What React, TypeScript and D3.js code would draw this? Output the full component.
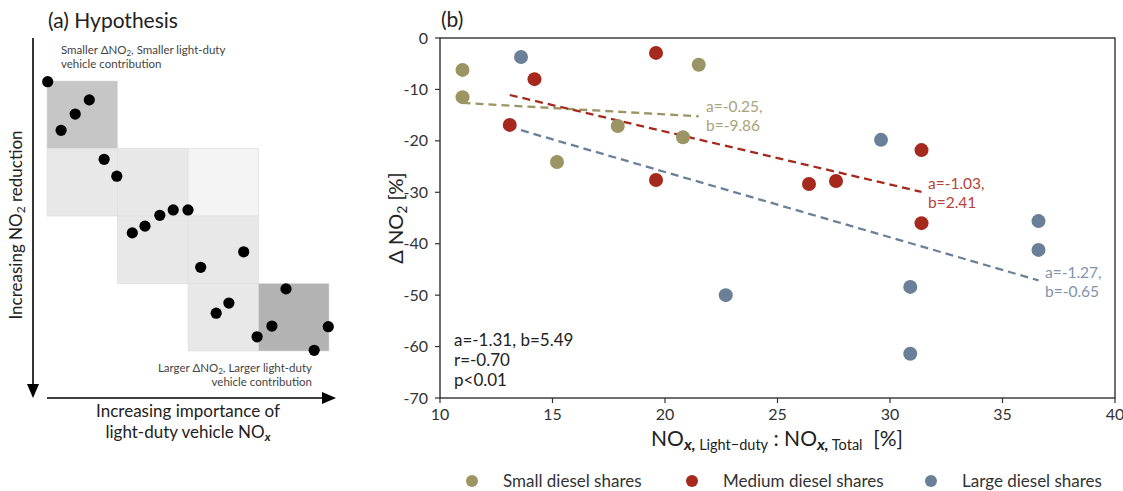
import React from "react";
import * as d3 from "d3";

const FONT = "Lato, 'Open Sans', sans-serif";

// Panel (b) data
const smallX = [11.0, 11.0, 15.2, 17.9, 20.8, 21.5];
const smallY = [-6.2, -11.5, -24.1, -17.1, -19.3, -5.2];
const mediumX = [19.6, 14.2, 13.1, 19.6, 26.4, 27.6, 31.4, 31.4];
const mediumY = [-2.9, -8.0, -16.9, -27.6, -28.4, -27.8, -21.8, -36.0];
const largeX = [13.6, 22.7, 29.6, 30.9, 30.9, 36.6, 36.6];
const largeY = [-3.7, -50.0, -19.8, -48.4, -61.4, -35.6, -41.2];

const seriesNames = ["Small diesel shares", "Medium diesel shares", "Large diesel shares"];
const seriesColors = ["#9b9563", "#a5291d", "#6a8099"];
const labelColors = ["#a8a47a", "#b4443a", "#8094ab"];
const fitA = [-0.25, -1.03, -1.27];
const fitB = [-9.86, 2.41, -0.65];
const fitLabels = [["a=-0.25,", "b=-9.86"], ["a=-1.03,", "b=2.41"], ["a=-1.27,", "b=-0.65"]];
const statsLines = ["a=-1.31, b=5.49", "r=-0.70", "p<0.01"];
const xTicks = [10, 15, 20, 25, 30, 35, 40];
const yTicks = [0, -10, -20, -30, -40, -50, -60, -70];

// Panel (a) data (abstract units: 4x4 grid)
const hypX = [0.01, 0.6, 0.4, 0.2, 0.81, 0.99, 1.21, 1.39, 1.6, 1.79, 2.0, 2.18, 2.79, 2.4, 2.58, 2.98, 3.19, 3.39, 3.99, 3.79];
const hypY = [0.01, 0.28, 0.49, 0.73, 1.16, 1.41, 2.25, 2.15, 1.99, 1.91, 1.91, 2.76, 2.53, 3.44, 3.29, 3.79, 3.63, 3.08, 3.64, 3.99];
const cellCol = [0, 0, 1, 2, 1, 2, 2, 3];
const cellRow = [0, 1, 1, 1, 2, 2, 3, 3];
const cellFill = ["#c6c6c6", "#e8e8e8", "#e8e8e8", "#f4f4f4", "#e8e8e8", "#e8e8e8", "#e8e8e8", "#b3b3b3"];

export default function App() {
  const x = d3.scaleLinear().domain([10, 40]).range([440, 1115]);
  const y = d3.scaleLinear().domain([0, -70]).range([38, 398]);
  const hx = d3.scaleLinear().domain([0, 4]).range([47, 329]);
  const hy = d3.scaleLinear().domain([0, 4]).range([81, 351]);

  const xs = [smallX, mediumX, largeX];
  const ys = [smallY, mediumY, largeY];
  const line = d3.line<[number, number]>().x((d) => x(d[0])).y((d) => y(d[1]));
  const labelPos = [[706, 112], [928, 189], [1045, 278]];
  const legendX = [472, 692, 931];

  return (
    <svg width={1123} height={491} style={{ position: "absolute", left: 0, top: 0, background: "#fff" }} fontFamily={FONT}>
      {/* Panel (a) */}
      <text x={48} y={28} fontSize={21} fill="#222">(a) Hypothesis</text>
      {cellCol.map((c, i) => (
        <rect key={"c" + i} x={hx(c)} y={hy(cellRow[i])} width={hx(1) - hx(0)} height={hy(1) - hy(0)} fill={cellFill[i]} stroke="#dcdcdc" strokeWidth={0.6} />
      ))}
      {hypX.map((v, i) => (
        <circle key={"h" + i} cx={hx(v)} cy={hy(hypY[i])} r={5.6} fill="#000" />
      ))}
      <line x1={33} y1={38} x2={33} y2={386} stroke="#000" strokeWidth={1.6} />
      <path d="M27,384 L39,384 L33,398 Z" fill="#000" />
      <line x1={47} y1={398} x2={324} y2={398} stroke="#000" strokeWidth={1.6} />
      <path d="M322,392 L322,404 L336,398 Z" fill="#000" />
      <text x={61} y={54} fontSize={11.5} fill="#444">Smaller ΔNO<tspan fontSize={8} dy={1.5}>2</tspan><tspan dy={-1.5}>, Smaller light-duty</tspan></text>
      <text x={61} y={68} fontSize={11.5} fill="#444">vehicle contribution</text>
      <text x={312} y={372} fontSize={11.5} fill="#444" textAnchor="end">Larger ΔNO<tspan fontSize={8} dy={1.5}>2</tspan><tspan dy={-1.5}>, Larger light-duty</tspan></text>
      <text x={312} y={386} fontSize={11.5} fill="#444" textAnchor="end">vehicle contribution</text>
      <text transform="translate(22,225) rotate(-90)" fontSize={17} fill="#222" textAnchor="middle">Increasing NO<tspan fontSize={12} dy={3}>2</tspan><tspan dy={-3}> reduction</tspan></text>
      <text x={188} y={417} fontSize={17} fill="#222" textAnchor="middle">Increasing importance of</text>
      <text x={188} y={438} fontSize={17} fill="#222" textAnchor="middle">light-duty vehicle NO<tspan fontSize={12} dy={3} fontStyle="italic" fontWeight="bold">x</tspan></text>

      {/* Panel (b) */}
      <text x={441} y={27} fontSize={21} fill="#222">(b)</text>
      <rect x={440} y={38} width={675} height={360} fill="none" stroke="#222" strokeWidth={1.3} />
      {yTicks.map((t) => (
        <g key={"y" + t}>
          <line x1={435} x2={440} y1={y(t)} y2={y(t)} stroke="#333" strokeWidth={1.2} />
          <text x={428} y={y(t) + 5.5} fontSize={16} textAnchor="end" fill="#333">{t}</text>
        </g>
      ))}
      {xTicks.map((t) => (
        <g key={"x" + t}>
          <line x1={x(t)} x2={x(t)} y1={398} y2={403} stroke="#333" strokeWidth={1.2} />
          <text x={x(t)} y={420} fontSize={16} textAnchor="middle" fill="#333">{t}</text>
        </g>
      ))}
      <text transform="translate(403,218) rotate(-90)" fontSize={20} fill="#222" textAnchor="middle">Δ NO<tspan fontSize={14} dy={4}>2</tspan><tspan dy={-4}> [%]</tspan></text>
      <text x={777} y={446} fontSize={21} fill="#222" textAnchor="middle">
        NO<tspan fontSize={16} dy={4} fontStyle="italic" fontWeight="bold">x,</tspan><tspan fontSize={14.5}> Light−duty</tspan><tspan dy={-4}> : NO</tspan><tspan fontSize={16} dy={4} fontStyle="italic" fontWeight="bold">x,</tspan><tspan fontSize={14.5}> Total</tspan><tspan dy={-4}>{"\u00a0\u00a0"}[%]</tspan>
      </text>

      {xs.map((xv, s) => {
        const x0 = d3.min(xv) as number;
        const x1 = d3.max(xv) as number;
        return (
          <path key={"f" + s} d={line([[x0, fitA[s] * x0 + fitB[s]], [x1, fitA[s] * x1 + fitB[s]]]) || ""} stroke={seriesColors[s]} strokeWidth={2.3} strokeDasharray="8,5" fill="none" />
        );
      })}
      {xs.map((xv, s) =>
        xv.map((v, i) => <circle key={"p" + s + "-" + i} cx={x(v)} cy={y(ys[s][i])} r={7} fill={seriesColors[s]} />)
      )}
      {fitLabels.map((lab, s) => (
        <g key={"l" + s}>
          <text x={labelPos[s][0]} y={labelPos[s][1]} fontSize={15.5} fill={labelColors[s]}>{lab[0]}</text>
          <text x={labelPos[s][0]} y={labelPos[s][1] + 18.5} fontSize={15.5} fill={labelColors[s]}>{lab[1]}</text>
        </g>
      ))}
      {statsLines.map((t, i) => (
        <text key={"s" + i} x={454} y={346 + i * 20} fontSize={17} fill="#222">{t}</text>
      ))}

      {/* Legend */}
      {seriesNames.map((n, s) => (
        <g key={"lg" + s}>
          <circle cx={legendX[s]} cy={481} r={6} fill={seriesColors[s]} />
          <text x={legendX[s] + 31} y={487} fontSize={17} fill="#333">{n}</text>
        </g>
      ))}
    </svg>
  );
}
